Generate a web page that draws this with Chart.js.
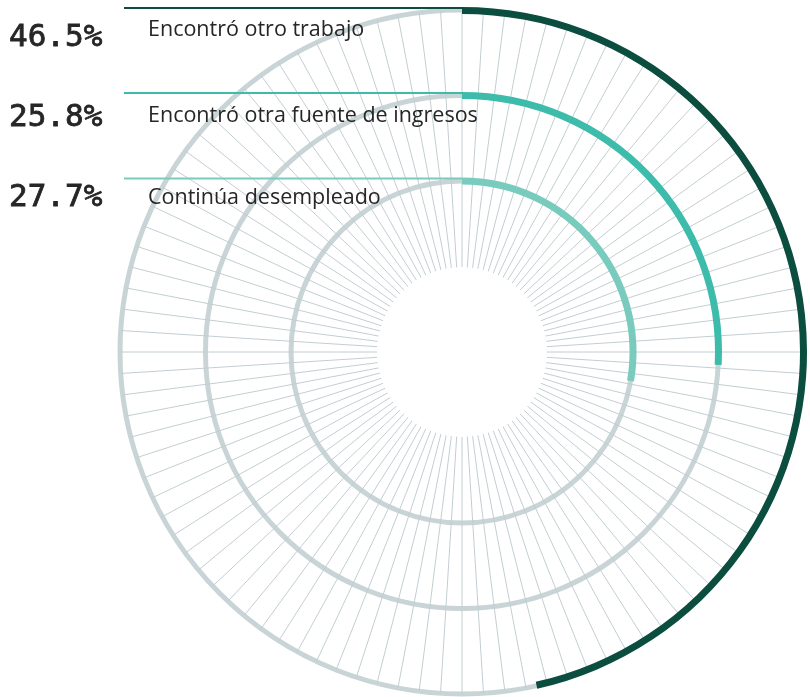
<!DOCTYPE html>
<html>
<head>
<meta charset="utf-8">
<script src="https://cdn.jsdelivr.net/npm/chart.js@4.4.1/dist/chart.umd.min.js"></script>
<style>
  html, body { margin: 0; padding: 0; background: #fff; }
  #wrap { position: relative; width: 810px; height: 697px; }
  #wrap canvas { position: absolute; left: 0; top: 0; }
</style>
</head>
<body>
<div id="wrap">
  <canvas id="grid" width="810" height="697"></canvas>
  <canvas id="rings" width="810" height="697"></canvas>
</div>
<script>
// data
const categories = ['Encontró otro trabajo', 'Encontró otra fuente de ingresos', 'Continúa desempleado']
const shares = [46.5, 25.8, 27.7]
const shareLabels = ['46.5%', '25.8%', '27.7%']
const spokeLabels = Array.from({ length: 100 }, () => '')

// look
const ringColors = ['#0b4d3f', '#3dbcab', '#78cbbd']
const trackColor = '#c9d4d7'
const spokeColor = '#c2ced2'
const textColor = '#262626'
const valueBaselines = [46, 126, 206]
const labelBaselines = [36, 122, 204]

// background: spokes and grey tracks
let gridConfig = {
  type: 'radar',
  data: { labels: spokeLabels, datasets: [] },
  options: {
    responsive: false,
    animation: false,
    events: [],
    layout: { padding: { left: 120, top: 10, right: 6, bottom: 3 } },
    plugins: { legend: { display: false }, tooltip: { enabled: false } },
    scales: {
      r: {
        min: 0,
        max: 4,
        ticks: { display: false, stepSize: 1 },
        pointLabels: { display: false },
        angleLines: { display: true, color: spokeColor, lineWidth: 1 },
        grid: {
          circular: true,
          color: (ctx) => (ctx.index === 1 ? 'rgba(0,0,0,0)' : trackColor),
          lineWidth: (ctx) => (ctx.index === 1 ? 0 : 5),
        },
      },
    },
  },
}
new Chart(document.getElementById('grid'), gridConfig)

// rings: outer to inner, with transparent gaps and a white centre
function ring(i) {
  return {
    data: [shares[i], 100 - shares[i]],
    backgroundColor: [ringColors[i], 'rgba(0,0,0,0)'],
    borderWidth: 0,
    weight: 7,
  }
}
function gap(w, color) {
  return { data: [1], backgroundColor: [color || 'rgba(0,0,0,0)'], borderWidth: 0, weight: w }
}
const ringIndex = [0, 2, 4]

const leaders = {
  id: 'leaders',
  afterDraw(chart) {
    const ctx = chart.ctx
    ctx.save()
    ringIndex.forEach((di, i) => {
      const arc = chart.getDatasetMeta(di).data[0]
      const lineY = arc.y - arc.outerRadius + 1
      ctx.strokeStyle = ringColors[i]
      ctx.lineWidth = 2
      ctx.beginPath()
      ctx.moveTo(124, lineY)
      ctx.lineTo(arc.x, lineY)
      ctx.stroke()

      ctx.fillStyle = textColor
      ctx.textBaseline = 'alphabetic'
      ctx.textAlign = 'left'
      ctx.font = '21.5px "Open Sans"'
      ctx.fillText(categories[i], 148, labelBaselines[i])
      ctx.font = '31px "DejaVu Sans Mono"'
      ctx.strokeStyle = textColor
      ctx.lineWidth = 0.8
      ctx.fillText(shareLabels[i], 9, valueBaselines[i])
      ctx.strokeText(shareLabels[i], 9, valueBaselines[i])
    })
    ctx.restore()
  },
}

let ringConfig = {
  type: 'doughnut',
  data: {
    labels: ['valor', 'resto'],
    datasets: [ring(0), gap(78), ring(1), gap(78.5), ring(2), gap(82.5), gap(85, '#ffffff')],
  },
  options: {
    responsive: false,
    animation: false,
    events: [],
    cutout: 0,
    hoverOffset: 0,
    layout: { padding: { left: 117, top: 7, right: 3, bottom: 0 } },
    plugins: { legend: { display: false }, tooltip: { enabled: false } },
  },
  plugins: [leaders],
}
new Chart(document.getElementById('rings'), ringConfig)
</script>
</body>
</html>
